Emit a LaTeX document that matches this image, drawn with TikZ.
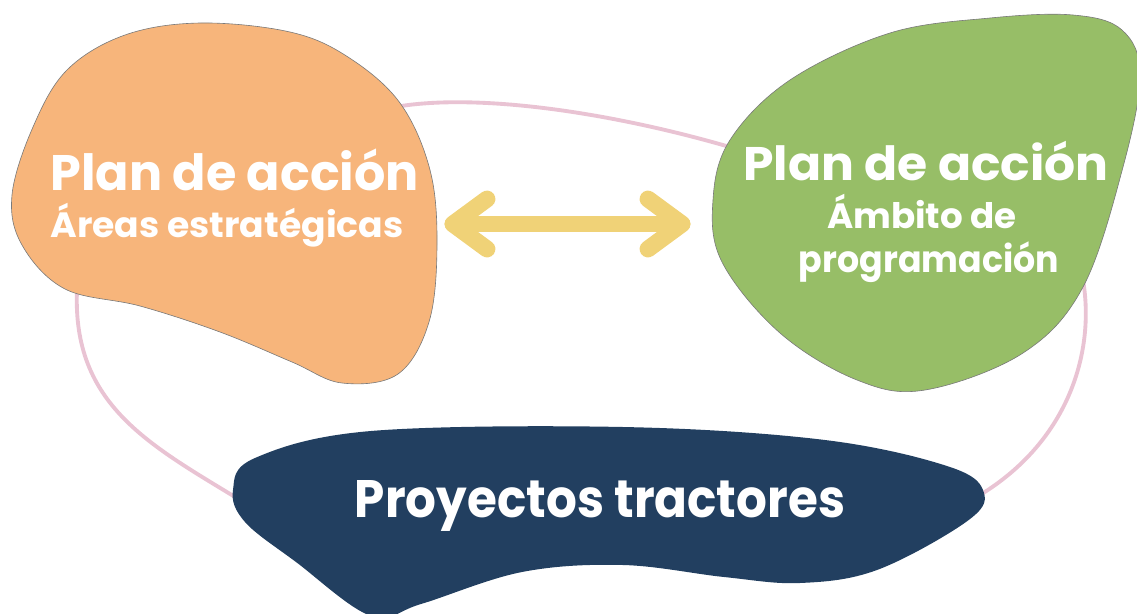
\documentclass[tikz,border=0pt]{standalone}
\usepackage{fontspec}
\setmainfont{Poppins}
\usepackage{graphicx}
\definecolor{blobOrange}{HTML}{F7B57B}
\definecolor{blobGreen}{HTML}{97BE67}
\definecolor{blobBlue}{HTML}{223F60}
\definecolor{loopPink}{HTML}{E9C3D3}
\definecolor{arrowYellow}{HTML}{F0D277}
\definecolor{edgeGray}{HTML}{7A7A7A}
\tikzset{
  blob/.style={draw=edgeGray, line width=0.35pt},
  loopline/.style={draw=loopPink, line width=2.2pt},
  twoway/.style={draw=arrowYellow, line width=9.6pt, line cap=round, line join=round},
  whitetext/.style={text=white, inner sep=0pt, font=\bfseries},
}
\newcommand{\fitw}[2]{\resizebox{#1}{\height}{#2}}
\begin{document}
\begin{tikzpicture}[x=0.02cm,y=-0.02cm]
\useasboundingbox (0,0) rectangle (1137,613);
\clip (0,0) rectangle (1137,613);
% loop connectors (behind blobs)
\coordinate (o1) at (395,107);
\coordinate (g1) at (740,150);
\coordinate (g2) at (1083,280);
\coordinate (b1) at (980,495);
\coordinate (b2) at (240,500);
\coordinate (o2) at (77,290);
\draw[loopline] (o1) .. controls (480,92) and (620,114) .. (g1);
\draw[loopline] (g2) .. controls (1095,350) and (1070,440) .. (b1);
\draw[loopline] (b2) .. controls (150,445) and (72,405) .. (o2);
% orange blob
\path[blob, fill=blobOrange] plot[smooth cycle, tension=0.6] coordinates {
  (200,23) (290,32) (348,57) (400,103) (430,170) (437,245) (429,322) (398,374) (342,383)
  (292,362) (220,332) (140,306) (65,289) (22,245) (12,195) (33,127) (67,70) (125,35)};
% green blob
\path[blob, fill=blobGreen] plot[smooth cycle, tension=0.6] coordinates {
  (1073,15) (1122,30) (1140,75) (1123,167) (1083,287) (1023,353) (925,390)
  (857,380) (780,333) (722,262) (713,200) (730,140) (790,80) (890,33) (990,18)};
% blue blob
\path[fill=blobBlue] plot[smooth cycle, tension=0.6] coordinates {
  (255,458) (371,431) (623,427) (825,440) (950,467) (984,493) (966,522)
  (877,570) (800,583) (724,577) (623,565) (522,572) (421,604) (371,616)
  (296,562) (245,522) (233,490)};
% texts
\node[whitetext, anchor=base west] (oL1) at (50,190)
  {\fontsize{28.4}{30}\selectfont\fitw{209.8pt}{Plan de acción}};
\node[whitetext, anchor=base west] (oL2) at (50,237)
  {\fontsize{20}{22}\selectfont\fitw{201pt}{Áreas estratégicas}};
\node[whitetext, anchor=base] (gL1) at (926,180)
  {\fontsize{26.8}{28}\selectfont\fitw{208pt}{Plan de acción}};
\node[whitetext, anchor=base] (gL2) at (922,228)
  {\fontsize{20}{22}\selectfont\fitw{108pt}{Ámbito de}};
\node[whitetext, anchor=base] (gL3) at (929,272)
  {\fontsize{21}{23}\selectfont\fitw{148pt}{programación}};
\node[whitetext, anchor=base] (bL1) at (600,517)
  {\fontsize{30}{32}\selectfont\fitw{279pt}{Proyectos tractores}};
% two-way arrow
\coordinate (arrL) at (453,224);
\coordinate (arrR) at (682,224);
\draw[twoway] (arrL) -- (arrR);
\draw[twoway] (487,199) -- (arrL) -- (487,249);
\draw[twoway] (648,199) -- (arrR) -- (648,249);
\end{tikzpicture}
\end{document}
